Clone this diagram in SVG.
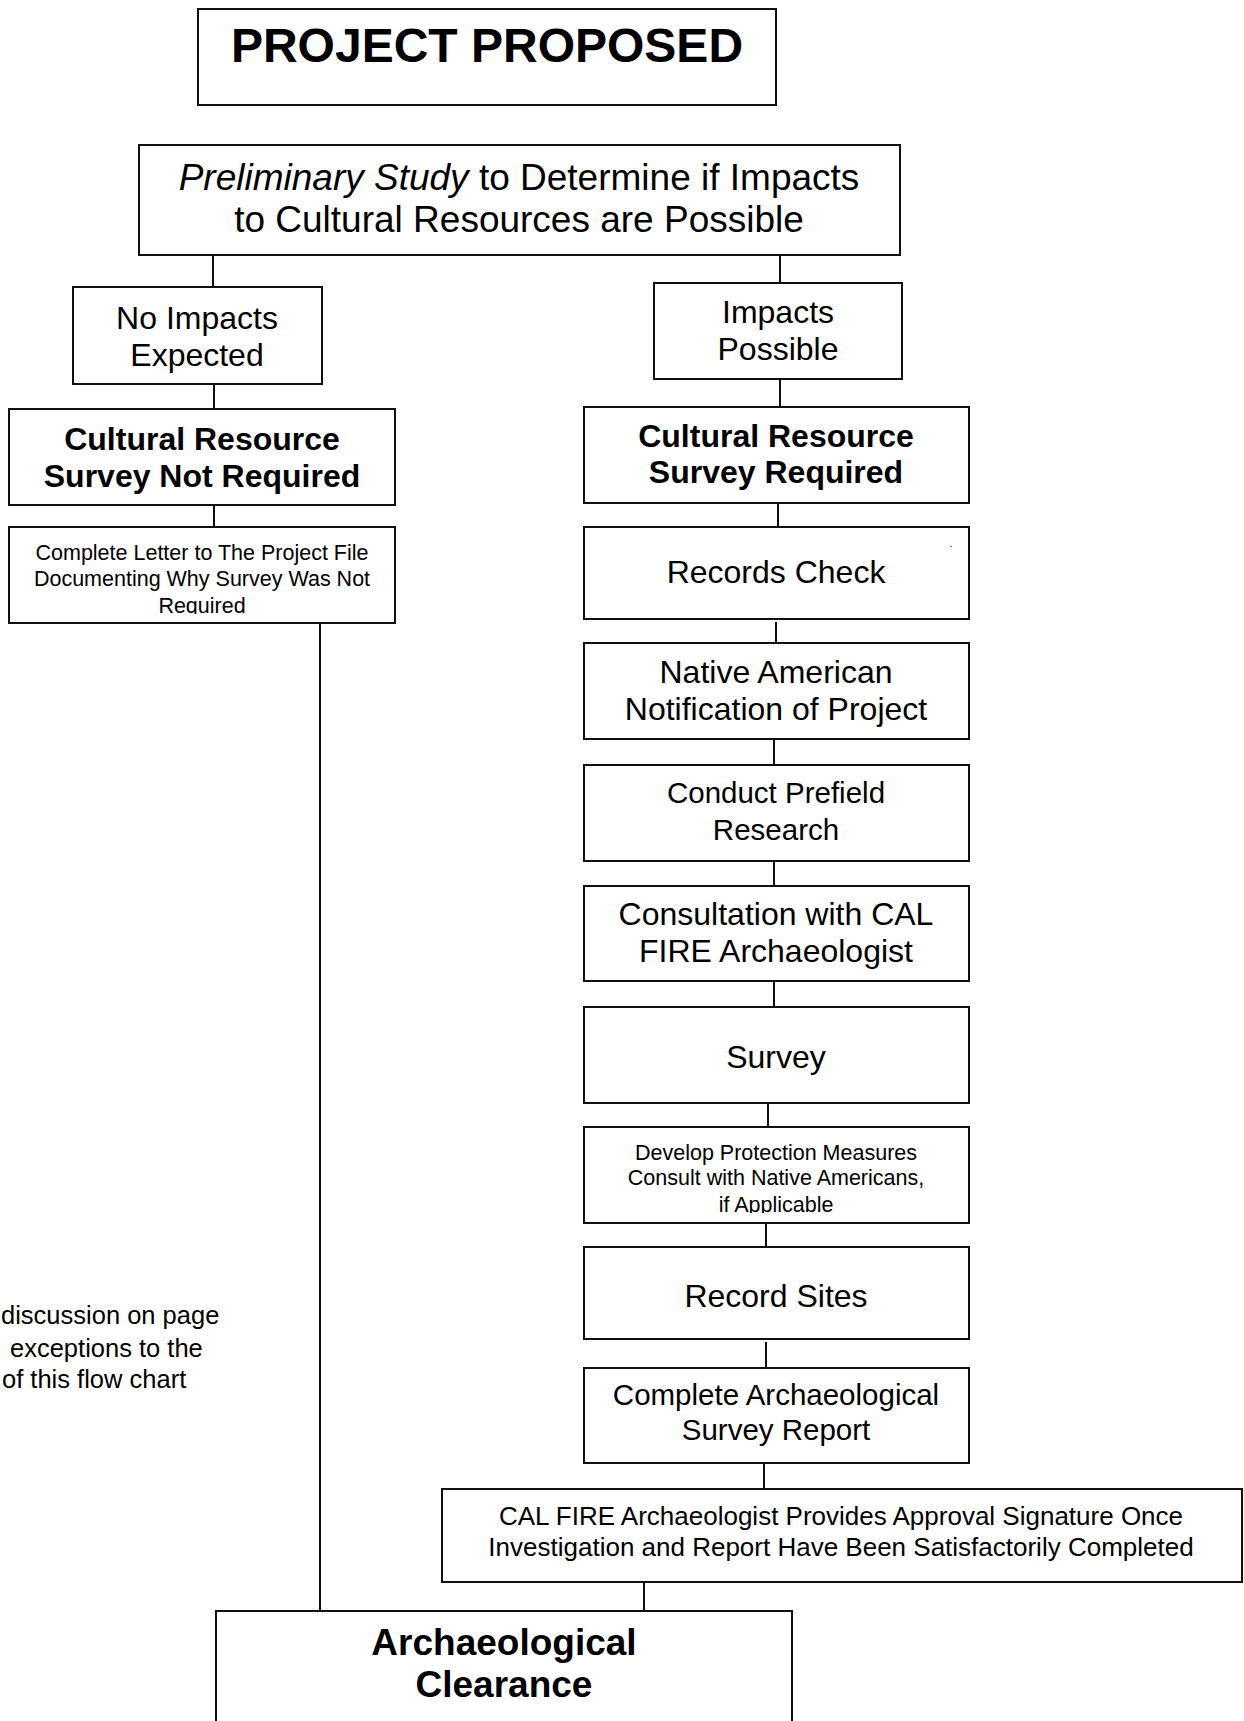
<svg xmlns="http://www.w3.org/2000/svg" width="1244" height="1721" viewBox="0 0 1244 1721">
<style>
  .box{fill:#fff;stroke:#111;stroke-width:2}
  .ln{stroke:#111;stroke-width:2;fill:none}
  text{font-family:"Liberation Sans",Arial,sans-serif;fill:#000;text-anchor:middle}
  .t32{font-size:32px}
  .t29{font-size:29.5px}
  .b32{font-size:32px;font-weight:bold}
  .t21{font-size:21.5px}
  .t26{font-size:26px}
  .note{font-size:25.5px;text-anchor:start}
</style>
<defs>
  <clipPath id="clipLetter"><rect x="9" y="527" width="386" height="87"/></clipPath>
  <clipPath id="clipDevelop"><rect x="584" y="1127" width="385" height="86"/></clipPath>
</defs>
<rect width="1244" height="1721" fill="#fff"/>

<g id="connectors">
  <line class="ln" x1="213" y1="256" x2="213" y2="287"/>
  <line class="ln" x1="780" y1="253" x2="780" y2="283"/>
  <line class="ln" x1="214" y1="384" x2="214" y2="409"/>
  <line class="ln" x1="214" y1="505" x2="214" y2="527"/>
  <line class="ln" x1="320" y1="623" x2="320" y2="1611"/>
  <line class="ln" x1="780" y1="379" x2="780" y2="407"/>
  <line class="ln" x1="778" y1="503" x2="778" y2="527"/>
  <line class="ln" x1="776" y1="622" x2="776" y2="643"/>
  <line class="ln" x1="774" y1="739" x2="774" y2="765"/>
  <line class="ln" x1="774" y1="861" x2="774" y2="886"/>
  <line class="ln" x1="774" y1="981" x2="774" y2="1007"/>
  <line class="ln" x1="768" y1="1103" x2="768" y2="1127"/>
  <line class="ln" x1="766" y1="1223" x2="766" y2="1247"/>
  <line class="ln" x1="766" y1="1342" x2="766" y2="1368"/>
  <line class="ln" x1="764" y1="1463" x2="764" y2="1489"/>
  <line class="ln" x1="644" y1="1582" x2="644" y2="1611"/>
</g>

<g id="project-proposed">
  <rect class="box" x="198" y="9" width="578" height="96"/>
  <text x="487" y="62" style="font-size:48px;font-weight:bold">PROJECT PROPOSED</text>
</g>

<g id="preliminary-study">
  <rect class="box" x="139" y="145" width="761" height="110"/>
  <text x="519" y="190" style="font-size:37px"><tspan font-style="italic">Preliminary Study</tspan> to Determine if Impacts</text>
  <text x="519" y="232" style="font-size:37px">to Cultural Resources are Possible</text>
</g>

<g id="no-impacts">
  <rect class="box" x="73" y="287" width="249" height="97"/>
  <text class="t32" x="197" y="329">No Impacts</text>
  <text class="t32" x="197" y="366">Expected</text>
</g>

<g id="survey-not-required">
  <rect class="box" x="9" y="409" width="386" height="96"/>
  <text class="b32" x="202" y="450">Cultural Resource</text>
  <text class="b32" x="202" y="487">Survey Not Required</text>
</g>

<g id="complete-letter">
  <rect class="box" x="9" y="527" width="386" height="96"/>
  <g clip-path="url(#clipLetter)">
    <text class="t21" x="202" y="560">Complete Letter to The Project File</text>
    <text class="t21" x="202" y="586">Documenting Why Survey Was Not</text>
    <text class="t21" x="202" y="613">Required</text>
  </g>
</g>

<g id="impacts-possible">
  <rect class="box" x="654" y="283" width="248" height="96"/>
  <text class="t32" x="778" y="323">Impacts</text>
  <text class="t32" x="778" y="360">Possible</text>
</g>

<g id="survey-required">
  <rect class="box" x="584" y="407" width="385" height="96"/>
  <text class="b32" x="776" y="447">Cultural Resource</text>
  <text class="b32" x="776" y="483">Survey Required</text>
</g>

<g id="records-check">
  <rect class="box" x="584" y="527" width="385" height="92"/>
  <text class="t32" x="776" y="583">Records Check</text>
  <text x="951" y="547" style="font-size:10px">.</text>
</g>

<g id="native-american-notification">
  <rect class="box" x="584" y="643" width="385" height="96"/>
  <text class="t32" x="776" y="683">Native American</text>
  <text class="t32" x="776" y="720">Notification of Project</text>
</g>

<g id="prefield-research">
  <rect class="box" x="584" y="765" width="385" height="96"/>
  <text class="t29" x="776" y="803">Conduct Prefield</text>
  <text class="t29" x="776" y="840">Research</text>
</g>

<g id="consultation">
  <rect class="box" x="584" y="886" width="385" height="95"/>
  <text class="t32" x="776" y="925">Consultation with CAL</text>
  <text class="t32" x="776" y="962">FIRE Archaeologist</text>
</g>

<g id="survey">
  <rect class="box" x="584" y="1007" width="385" height="96"/>
  <text class="t32" x="776" y="1068">Survey</text>
</g>

<g id="protection-measures">
  <rect class="box" x="584" y="1127" width="385" height="96"/>
  <g clip-path="url(#clipDevelop)">
    <text class="t21" x="776" y="1160">Develop Protection Measures</text>
    <text class="t21" x="776" y="1185">Consult with Native Americans,</text>
    <text class="t21" x="776" y="1212">if Applicable</text>
  </g>
</g>

<g id="record-sites">
  <rect class="box" x="584" y="1247" width="385" height="92"/>
  <text class="t32" x="776" y="1307">Record Sites</text>
</g>

<g id="survey-report">
  <rect class="box" x="584" y="1368" width="385" height="95"/>
  <text class="t29" x="776" y="1405">Complete Archaeological</text>
  <text class="t29" x="776" y="1440">Survey Report</text>
</g>

<g id="approval-signature">
  <rect class="box" x="442" y="1489" width="800" height="93"/>
  <text class="t26" x="841" y="1525">CAL FIRE Archaeologist Provides Approval Signature Once</text>
  <text class="t26" x="841" y="1556">Investigation and Report Have Been Satisfactorily Completed</text>
</g>

<g id="archaeological-clearance">
  <rect class="box" x="216" y="1611" width="576" height="140"/>
  <text x="504" y="1655" style="font-size:37px;font-weight:bold">Archaeological</text>
  <text x="504" y="1697" style="font-size:37px;font-weight:bold">Clearance</text>
</g>

<g id="note">
  <text class="note" x="1" y="1324">discussion on page</text>
  <text class="note" x="10" y="1357">exceptions to the</text>
  <text class="note" x="2" y="1388">of this flow chart</text>
</g>
</svg>
